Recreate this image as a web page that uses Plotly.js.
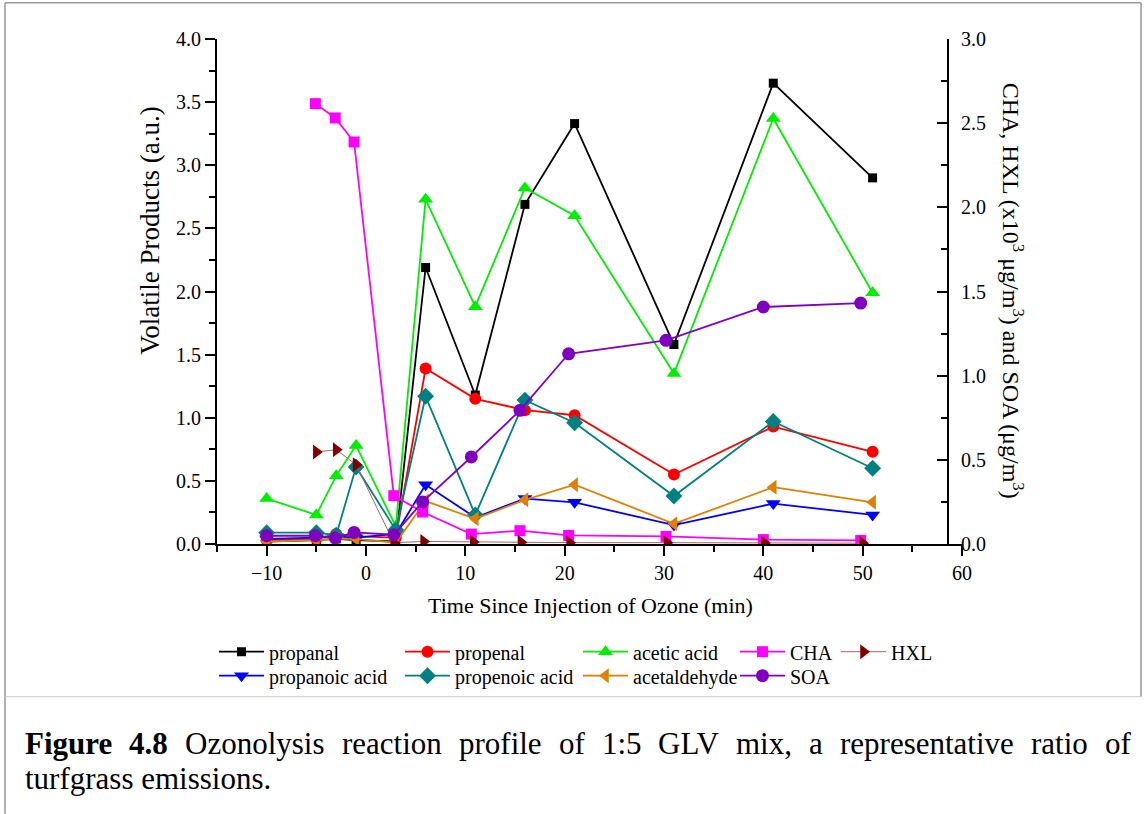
<!DOCTYPE html>
<html><head><meta charset="utf-8">
<script src="https://cdn.plot.ly/plotly-3.0.1.min.js"></script>
<style>html,body{margin:0;padding:0;background:#fff}#chart{width:1146px;height:814px}</style>
</head><body><div id="chart"></div>
<script>
// ---- data ----
const timeMain = [-10, -5, -3, -1, 3, 6, 11, 16, 21, 31, 41, 51];
const timeSOA  = [-10, -5.1, -3.1, -1.2, 2.8, 5.7, 10.6, 15.5, 20.4, 30.2, 40, 49.8];
const timeCHA  = [-5.1, -3.1, -1.2, 2.8, 5.7, 10.6, 15.5, 20.4, 30.2, 40, 49.8];
const timeHXL  = [-5, -3, -1, 2.8, 5.8, 10.8, 15.6, 20.5, 30.3, 40.1, 50];

const propanal      = [0.02, 0.03, 0.04, 0.03, 0.02, 2.19, 1.18, 2.69, 3.33, 1.58, 3.65, 2.90];
const propenal      = [0.03, 0.04, 0.08, 0.06, 0.05, 1.39, 1.15, 1.06, 1.02, 0.55, 0.93, 0.73];
const aceticAcid    = [0.36, 0.23, 0.54, 0.78, 0.14, 2.73, 1.88, 2.82, 2.60, 1.35, 3.37, 1.99];
const propanoicAcid = [0.04, 0.05, 0.06, 0.05, 0.08, 0.47, 0.21, 0.36, 0.33, 0.15, 0.32, 0.23];
const propenoicAcid = [0.09, 0.09, 0.07, 0.61, 0.11, 1.17, 0.23, 1.14, 0.96, 0.38, 0.97, 0.60];
const acetaldehyde  = [0.02, 0.03, 0.04, 0.04, 0.01, 0.34, 0.20, 0.35, 0.47, 0.16, 0.45, 0.33];
const CHA = [2.616, 2.531, 2.388, 0.287, 0.190, 0.059, 0.079, 0.051, 0.045, 0.026, 0.021];
const HXL = [0.547, 0.560, 0.471, 0.008, 0.015, 0.012, 0.010, 0.008, 0.008, 0.006, 0.005];
const SOA = [0.049, 0.049, 0.036, 0.069, 0.055, 0.25, 0.517, 0.794, 1.13, 1.21, 1.408, 1.431];

const seriesNames = ['propanal', 'propenal', 'acetic acid', 'CHA', 'HXL',
                     'propanoic acid', 'propenoic acid', 'acetaldehyde', 'SOA'];
const xTickVals = [-10, 0, 10, 20, 30, 40, 50, 60];
const xAxisTitle = 'Time Since Injection of Ozone (min)';
const yAxisTitle = 'Volatile Products (a.u.)';
const y2AxisTitle = 'CHA, HXL (x10<sup>3</sup> μg/m<sup>3</sup>) and SOA (μg/m<sup>3</sup>)';
const captionLine1 = ['Figure', '4.8', 'Ozonolysis', 'reaction', 'profile', 'of', '1:5', 'GLV', 'mix,', 'a', 'representative', 'ratio', 'of'];
const captionLine2 = 'turfgrass emissions.';

// ---- layout helpers ----
const FONT = '"Liberation Serif", "Times New Roman", serif';
const W = 1146, H = 814;
const L = 217, R = 962, T = 39.3, B = 544.3;
const px2x = p => (p - L) / (R - L);
const py2y = p => (B - p) / (B - T);

function mk(name, x, y, yaxis, color, symbol, size, legend, lineColor, lineWidth) {
  return {
    type: 'scatter', mode: 'lines+markers', name: name, x: x, y: y, yaxis: yaxis,
    line: {color: lineColor || color, width: lineWidth || 1.8},
    marker: {color: color, symbol: symbol, size: size, line: {width: 0}},
    legend: legend, showlegend: true
  };
}

const data = [
  mk(seriesNames[0], timeMain, propanal, 'y', '#000000', 'square', 9, 'legend'),
  mk(seriesNames[1], timeMain, propenal, 'y', '#ff0000', 'circle', 12, 'legend2'),
  mk(seriesNames[2], timeMain, aceticAcid, 'y', '#00ee00', 'triangle-up', 13, 'legend3'),
  mk(seriesNames[5], timeMain, propanoicAcid, 'y', '#0000ff', 'triangle-down', 13, 'legend6'),
  mk(seriesNames[6], timeMain, propenoicAcid, 'y', '#008080', 'diamond', 13, 'legend7'),
  mk(seriesNames[7], timeMain, acetaldehyde, 'y', '#e08000', 'triangle-left', 13, 'legend8'),
  mk(seriesNames[3], timeCHA, CHA, 'y2', '#ff00ff', 'square', 11, 'legend4'),
  mk(seriesNames[4], timeHXL, HXL, 'y2', '#800000', 'triangle-right', 13, 'legend5', '#b06060', 1),
  mk(seriesNames[8], timeSOA, SOA, 'y2', '#8000c0', 'circle', 13, 'legend9')
];

// legend grid: 5 columns, 2 rows
const colX = [219, 405, 583, 740, 841];
const rowY = [652, 676];
const legendPos = {
  legend: [0, 0], legend2: [1, 0], legend3: [2, 0], legend4: [3, 0], legend5: [4, 0],
  legend6: [0, 1], legend7: [1, 1], legend8: [2, 1], legend9: [3, 1]
};

const tickFont = {family: FONT, size: 20, color: '#000'};
const layout = {
  width: W, height: H,
  margin: {l: L, r: W - R, t: T, b: H - B, pad: 0},
  paper_bgcolor: '#fff', plot_bgcolor: 'rgba(0,0,0,0)',
  font: {family: FONT, color: '#000'},
  showlegend: true,
  xaxis: {
    range: [-15, 60], tickvals: xTickVals, ticks: 'outside', ticklen: 10, tickwidth: 2,
    tickcolor: '#000', showline: true, linecolor: '#000', linewidth: 2, showgrid: false,
    zeroline: false, tickfont: tickFont,
    minor: {dtick: 5, tick0: 0, ticks: 'outside', ticklen: 6, tickwidth: 2, tickcolor: '#000', showgrid: false}
  },
  yaxis: {
    range: [0, 4], dtick: 0.5, tick0: 0, tickformat: '.1f', ticks: 'outside', ticklen: 10, tickwidth: 2,
    tickcolor: '#000', showline: true, linecolor: '#000', linewidth: 2, showgrid: false,
    zeroline: false, tickfont: tickFont,
    minor: {dtick: 0.25, ticks: 'outside', ticklen: 6, tickwidth: 2, tickcolor: '#000', showgrid: false}
  },
  yaxis2: {
    range: [0, 3], dtick: 0.5, tick0: 0, tickformat: '.1f', overlaying: 'y', side: 'right',
    anchor: 'free', position: (948 - L) / (R - L),
    ticks: 'inside', ticklen: 10, tickwidth: 2, tickcolor: '#000', showline: true,
    linecolor: '#000', linewidth: 2, showgrid: false, zeroline: false, tickfont: tickFont,
    ticklabelstandoff: 8,
    minor: {dtick: 0.25, ticks: 'inside', ticklen: 6, tickwidth: 2, tickcolor: '#000', showgrid: false}
  },
  annotations: [
    {text: xAxisTitle, xref: 'paper', yref: 'paper', x: px2x(590), y: py2y(606),
     xanchor: 'center', yanchor: 'middle', showarrow: false, font: {family: FONT, size: 22}},
    {text: yAxisTitle, xref: 'paper', yref: 'paper', x: px2x(150), y: py2y(231),
     xanchor: 'center', yanchor: 'middle', showarrow: false, textangle: -90, font: {family: FONT, size: 27}},
    {text: y2AxisTitle, xref: 'paper', yref: 'paper', x: px2x(1013), y: py2y(291),
     xanchor: 'center', yanchor: 'middle', showarrow: false, textangle: 90, font: {family: FONT, size: 24}}
  ],
  shapes: [
    {type: 'line', xref: 'paper', yref: 'paper', x0: px2x(5), x1: px2x(5), y0: py2y(3), y1: py2y(814), line: {color: '#999', width: 1.5}},
    {type: 'line', xref: 'paper', yref: 'paper', x0: px2x(5), x1: px2x(1141), y0: py2y(3), y1: py2y(3), line: {color: '#999', width: 1.5}},
    {type: 'line', xref: 'paper', yref: 'paper', x0: px2x(1141), x1: px2x(1141), y0: py2y(3), y1: py2y(697), line: {color: '#999', width: 1.5}},
    {type: 'line', xref: 'paper', yref: 'paper', x0: px2x(5), x1: px2x(1141), y0: py2y(697), y1: py2y(697), line: {color: '#ccc', width: 1}}
  ]
};

Object.keys(legendPos).forEach(k => {
  const [c, r] = legendPos[k];
  layout[k] = {
    x: px2x(colX[c] - 5), y: py2y(rowY[r]), xanchor: 'left', yanchor: 'middle',
    orientation: 'v', bgcolor: 'rgba(0,0,0,0)', borderwidth: 0, itemwidth: 45,
    font: {family: FONT, size: 20, color: '#000'}, itemclick: false, itemdoubleclick: false
  };
});

// caption: justified first line, placed word by word
(function () {
  const ctx = document.createElement('canvas').getContext('2d');
  const size = 31;
  const left = 25, right = 1131;
  const widths = captionLine1.map((w, i) => {
    ctx.font = (i < 2 ? 'bold ' : '') + size + 'px "Liberation Serif"';
    return ctx.measureText(w).width;
  });
  const total = widths.reduce((a, b) => a + b, 0);
  const gap = (right - left - total) / (captionLine1.length - 1);
  let pos = left;
  captionLine1.forEach((w, i) => {
    layout.annotations.push({
      text: i < 2 ? '<b>' + w + '</b>' : w, xref: 'paper', yref: 'paper',
      x: px2x(pos - 2), y: py2y(744), xanchor: 'left', yanchor: 'middle', showarrow: false,
      font: {family: FONT, size: size, color: '#000'}
    });
    pos += widths[i] + gap;
  });
  layout.annotations.push({
    text: captionLine2, xref: 'paper', yref: 'paper', x: px2x(left - 2), y: py2y(779),
    xanchor: 'left', yanchor: 'middle', showarrow: false, font: {family: FONT, size: size, color: '#000'}
  });
})();

Plotly.newPlot('chart', data, layout, {displayModeBar: false, staticPlot: true});
</script>
</body></html>
